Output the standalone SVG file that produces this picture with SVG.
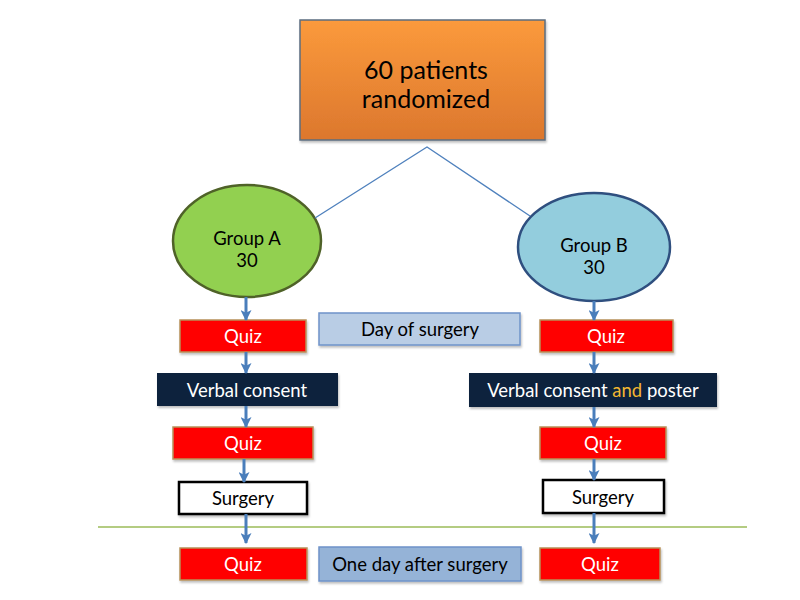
<svg xmlns="http://www.w3.org/2000/svg" width="800" height="600" viewBox="0 0 800 600">
<defs>
  <linearGradient id="orange" x1="0" y1="0" x2="0" y2="1">
    <stop offset="0" stop-color="#fb9a3c"/>
    <stop offset="1" stop-color="#dc772d"/>
  </linearGradient>
  <marker id="arr" viewBox="0 0 10 10" refX="9" refY="5" markerWidth="11" markerHeight="11" markerUnits="userSpaceOnUse" orient="auto">
    <path d="M0,0 L10,5 L0,10 L2.5,5 Z" fill="#4a7ebb"/>
  </marker>
  <filter id="sh" x="-10%" y="-10%" width="125%" height="140%">
    <feDropShadow dx="1" dy="2" stdDeviation="1.2" flood-color="#000" flood-opacity="0.25"/>
  </filter>
</defs>
<style>
  text { font-family: Lato, "Open Sans", "Liberation Sans", sans-serif; text-anchor: middle; dominant-baseline: central; }
  .quiz rect { fill: #ff0000; stroke: #b8915a; stroke-width: 1.5; filter: url(#sh); }
  .quiz text { fill: #ffffff; font-size: 18.5px; }
  .navy rect { fill: #0f243e; filter: url(#sh); }
  .navy text { fill: #ffffff; font-size: 18.5px; }
  .surg rect { fill: #ffffff; stroke: #000000; stroke-width: 2.5; filter: url(#sh); }
  .surg text { fill: #000000; font-size: 18.5px; }
  .label rect { stroke: #6f93c9; stroke-width: 1.5; filter: url(#sh); }
  .label text { fill: #000000; font-size: 18.5px; }
  .grp { font-size: 18.5px; fill: #000; }
  .conn line { stroke: #4a7ebb; stroke-width: 3; }
  .thin { stroke: #4f81bd; stroke-width: 1.3; fill: none; }
</style>

<g id="top">
  <rect x="300" y="20" width="245" height="120" fill="url(#orange)" stroke="#5b6e80" stroke-width="1.5" filter="url(#sh)"/>
  <text x="426" y="69" font-size="25" fill="#000">60 patients</text>
  <text x="426" y="98" font-size="25" fill="#000">randomized</text>
</g>

<g id="groupA">
  <ellipse cx="247" cy="241" rx="74" ry="56" fill="#92d050" stroke="#4f6228" stroke-width="2.5"/>
  <text class="grp" x="247" y="238">Group A</text>
  <text class="grp" x="247" y="260">30</text>
</g>

<g id="groupB">
  <ellipse cx="594" cy="247" rx="76" ry="54" fill="#93cddd" stroke="#2f4f7f" stroke-width="2.5"/>
  <text class="grp" x="594" y="245">Group B</text>
  <text class="grp" x="594" y="267">30</text>
</g>

<g id="quizA1" class="quiz"><rect x="180" y="320" width="126" height="32"/><text x="243" y="336">Quiz</text></g>
<g id="dayOfSurgery" class="label"><rect x="319" y="313" width="201" height="32" fill="#b9cde5"/><text x="420" y="329">Day of surgery</text></g>
<g id="verbalA" class="navy"><rect x="157" y="373" width="181" height="33"/><text x="247" y="389.5">Verbal consent</text></g>
<g id="quizA2" class="quiz"><rect x="173" y="427" width="140" height="32"/><text x="243" y="443">Quiz</text></g>
<g id="surgeryA" class="surg"><rect x="179" y="482" width="128" height="32"/><text x="243" y="498">Surgery</text></g>
<g id="quizA3" class="quiz"><rect x="180" y="548" width="127" height="32"/><text x="243" y="564">Quiz</text></g>
<g id="oneDayAfter" class="label"><rect x="319" y="547" width="202" height="34" fill="#95b3d7"/><text x="420" y="564">One day after surgery</text></g>

<g id="quizB1" class="quiz"><rect x="540" y="320" width="133" height="32"/><text x="606" y="336">Quiz</text></g>
<g id="verbalB" class="navy"><rect x="469" y="373" width="248" height="34"/><text x="593" y="390"><tspan>Verbal consent </tspan><tspan fill="#f2b632">and</tspan><tspan> poster</tspan></text></g>
<g id="quizB2" class="quiz"><rect x="540" y="427" width="126" height="32"/><text x="603" y="443">Quiz</text></g>
<g id="surgeryB" class="surg"><rect x="543" y="480" width="121" height="33"/><text x="603" y="496.5">Surgery</text></g>
<g id="quizB3" class="quiz"><rect x="540" y="548" width="120" height="32"/><text x="600" y="564">Quiz</text></g>

<g id="divider">
  <line x1="98" y1="527" x2="747" y2="527" stroke="#9bbb59" stroke-width="1.3"/>
</g>

<g id="connectors" class="conn">
  <polyline class="thin" points="315,218 427,147 530,216"/>
  <line x1="246" y1="297" x2="246" y2="320" marker-end="url(#arr)"/>
  <line x1="246" y1="352" x2="246" y2="373" marker-end="url(#arr)"/>
  <line x1="246" y1="406" x2="246" y2="427" marker-end="url(#arr)"/>
  <line x1="244" y1="459" x2="244" y2="482" marker-end="url(#arr)"/>
  <line x1="246" y1="514" x2="246" y2="543" marker-end="url(#arr)"/>
  <line x1="594" y1="301" x2="594" y2="320" marker-end="url(#arr)"/>
  <line x1="594" y1="352" x2="594" y2="373" marker-end="url(#arr)"/>
  <line x1="594" y1="407" x2="594" y2="427" marker-end="url(#arr)"/>
  <line x1="594" y1="459" x2="594" y2="480" marker-end="url(#arr)"/>
  <line x1="594" y1="513" x2="594" y2="543" marker-end="url(#arr)"/>
</g>
</svg>
